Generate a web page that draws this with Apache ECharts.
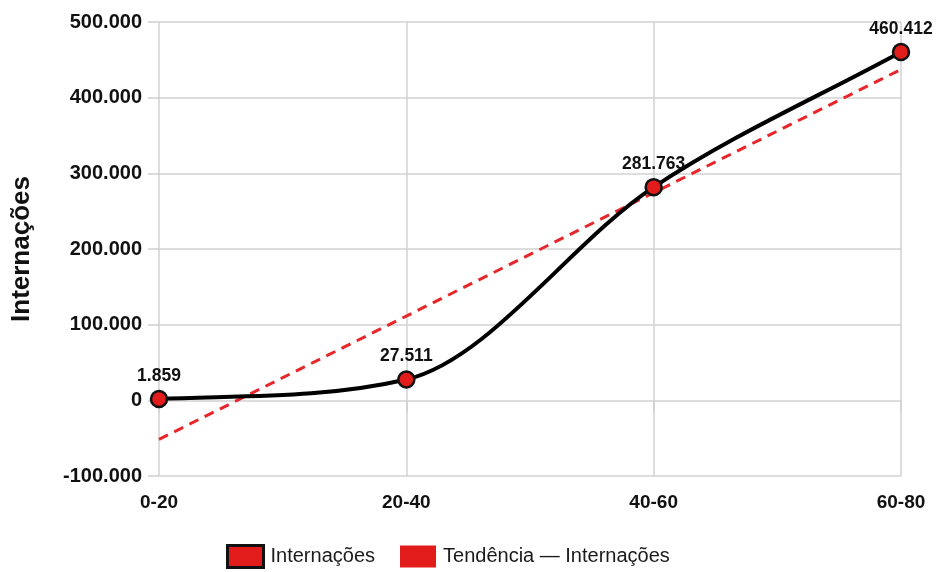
<!DOCTYPE html>
<html>
<head>
<meta charset="utf-8">
<script src="https://cdn.jsdelivr.net/npm/echarts@6/dist/echarts.min.js"></script>
<style>
  html, body { margin: 0; padding: 0; background: #fff; }
  #chart { width: 936px; height: 572px; }
</style>
</head>
<body>
<div id="chart"></div>
<script>
// Age groups on the x axis
const faixas = ['0-20', '20-40', '40-60', '60-80'];
// Hospitalisations per age group
const internacoes = [1859, 27511, 281763, 460412];
// Linear trend of hospitalisations at each age group
const tendencia = [-51600, 111391, 274382, 437373];
// Y axis range and step
const yMin = -100000, yMax = 500000, yStep = 100000;

const fmt = v => {
  const s = Math.abs(v).toString().replace(/\B(?=(\d{3})+(?!\d))/g, '.');
  return (v < 0 ? '-' : '') + s;
};

const FONT = '"Liberation Sans", Arial, sans-serif';
const RED = '#e21b1b';

// Monotone cubic (Fritsch–Carlson) path through the projected points
function monotonePath(pts) {
  const n = pts.length;
  const d = [], m = [];
  for (let i = 0; i < n - 1; i++) {
    d.push((pts[i + 1][1] - pts[i][1]) / (pts[i + 1][0] - pts[i][0]));
  }
  for (let i = 0; i < n; i++) {
    if (i === 0) m.push(d[0]);
    else if (i === n - 1) m.push(d[n - 2]);
    else if (d[i - 1] === 0 || d[i] === 0 || (d[i - 1] > 0) !== (d[i] > 0)) m.push(0);
    else m.push((d[i - 1] + d[i]) / 2);
  }
  for (let i = 0; i < n - 1; i++) {
    if (Math.abs(d[i]) < 1e-9) { m[i] = m[i + 1] = 0; continue; }
    const a = m[i] / d[i], b = m[i + 1] / d[i], s = a * a + b * b;
    if (s <= 9) continue;
    const t = 3 / Math.sqrt(s);
    m[i] = a * t * d[i];
    m[i + 1] = b * t * d[i];
  }
  let p = 'M' + pts[0][0] + ' ' + pts[0][1];
  for (let i = 0; i < n - 1; i++) {
    const dx = (pts[i + 1][0] - pts[i][0]) / 3;
    p += ' C' + (pts[i][0] + dx) + ' ' + (pts[i][1] + dx * m[i]) + ' ' +
         (pts[i + 1][0] - dx) + ' ' + (pts[i + 1][1] - dx * m[i + 1]) + ' ' +
         pts[i + 1][0] + ' ' + pts[i + 1][1];
  }
  return p;
}

const chart = echarts.init(document.getElementById('chart'), null, { renderer: 'canvas' });

chart.setOption({
  animation: false,
  textStyle: { fontFamily: FONT },
  grid: { left: 159, right: 35, top: 22, bottom: 96, containLabel: false, outerBoundsMode: 'none' },
  legend: {
    bottom: 0,
    left: 226,
    padding: [0, 0, 3, 0],
    itemWidth: 36,
    itemHeight: 22,
    itemGap: 25,
    textStyle: { fontFamily: FONT, fontSize: 20, color: '#1a1a1a', fontWeight: 'normal', padding: [0, 0, 0, 2] },
    data: [
      { name: 'Internações', icon: 'rect', itemStyle: { color: RED, borderColor: '#111', borderWidth: 3 } },
      { name: 'Tendência — Internações', icon: 'rect', itemStyle: { color: RED, borderColor: RED, borderWidth: 0 } }
    ]
  },
  xAxis: {
    type: 'category',
    data: faixas,
    boundaryGap: false,
    axisLine: { show: false },
    axisTick: { show: true, alignWithLabel: true, length: 12, lineStyle: { color: '#cfcfcf', width: 1.5 } },
    splitLine: { show: true, lineStyle: { color: '#d2d2d2', width: 1.5 } },
    axisLabel: { color: '#111', fontSize: 19, fontWeight: 'bold', margin: 17, fontFamily: FONT }
  },
  yAxis: {
    type: 'value',
    min: yMin,
    max: yMax,
    interval: yStep,
    name: 'Internações',
    nameLocation: 'middle',
    nameGap: 124,
    nameTextStyle: { color: '#111', fontSize: 26, fontWeight: 'bold', fontFamily: FONT },
    axisLine: { show: false },
    axisTick: { show: true, length: 11, lineStyle: { color: '#cfcfcf', width: 1.5 } },
    splitLine: { show: true, lineStyle: { color: '#d2d2d2', width: 1.5 } },
    axisLabel: { color: '#111', fontSize: 20, fontWeight: 'bold', margin: 17, formatter: fmt, fontFamily: FONT }
  },
  series: [
    {
      // curve through the hospitalisation values
      type: 'custom',
      silent: true,
      z: 3,
      data: internacoes.map((v, i) => [i, v]),
      encode: { x: 0, y: 1 },
      renderItem: (params, api) => {
        if (params.dataIndex !== 0) return null;
        const pts = internacoes.map((v, i) => api.coord([i, v]));
        return {
          type: 'path',
          shape: { pathData: monotonePath(pts) },
          style: { stroke: '#000', lineWidth: 4, fill: 'none', lineJoin: 'round', lineCap: 'round' }
        };
      }
    },
    {
      name: 'Internações',
      type: 'line',
      data: internacoes,
      symbol: 'circle',
      symbolSize: 16,
      z: 4,
      lineStyle: { width: 0, opacity: 0 },
      itemStyle: { color: RED, borderColor: '#111', borderWidth: 2.5 },
      label: {
        show: true,
        position: 'top',
        distance: 5,
        color: '#111',
        fontSize: 17.5,
        fontWeight: 'bold',
        fontFamily: FONT,
        formatter: p => fmt(p.value)
      }
    },
    {
      name: 'Tendência — Internações',
      type: 'line',
      data: tendencia,
      symbol: 'none',
      z: 2,
      lineStyle: { color: '#e8262a', width: 3, type: [10, 7] },
      itemStyle: { color: RED }
    }
  ]
});
</script>
</body>
</html>
